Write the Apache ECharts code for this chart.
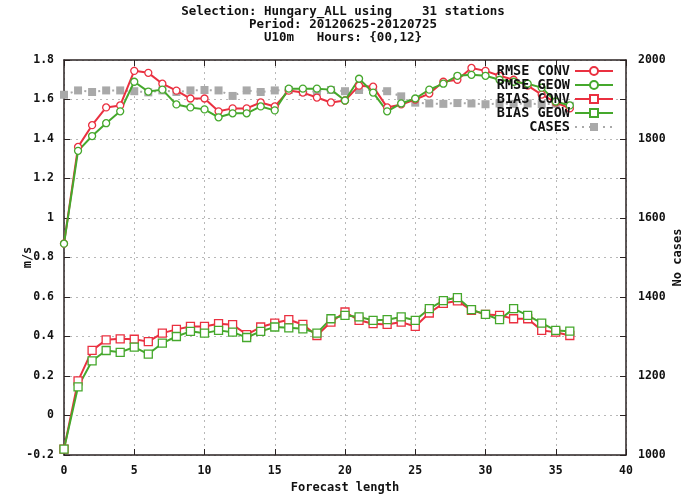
<!DOCTYPE html>
<html>
<head>
<meta charset="utf-8">
<script src="https://cdn.jsdelivr.net/npm/echarts@6/dist/echarts.min.js"></script>
<style>
  html, body { margin: 0; padding: 0; background: #fff; }
  #chart { width: 686px; height: 498px; }
</style>
</head>
<body>
<div id="chart"></div>
<script>
// Forecast length (hours)
const forecastLength = [0,1,2,3,4,5,6,7,8,9,10,11,12,13,14,15,16,17,18,19,20,21,22,23,24,25,26,27,28,29,30,31,32,33,34,35,36];

// Scores in m/s
const rmseConv = [0.87,1.36,1.47,1.56,1.57,1.745,1.735,1.68,1.645,1.605,1.605,1.54,1.555,1.555,1.585,1.565,1.645,1.635,1.61,1.585,1.595,1.67,1.665,1.56,1.575,1.60,1.63,1.69,1.70,1.76,1.745,1.72,1.70,1.67,1.625,1.585,1.555];
const rmseGeow = [0.87,1.34,1.415,1.48,1.54,1.69,1.64,1.65,1.575,1.56,1.55,1.51,1.53,1.53,1.565,1.545,1.655,1.655,1.655,1.65,1.595,1.705,1.635,1.54,1.58,1.605,1.65,1.68,1.72,1.725,1.72,1.70,1.69,1.68,1.66,1.59,1.57];
const biasConv = [-0.17,0.175,0.33,0.383,0.388,0.386,0.374,0.417,0.436,0.451,0.451,0.465,0.46,0.41,0.448,0.468,0.485,0.461,0.405,0.473,0.524,0.482,0.465,0.461,0.473,0.451,0.519,0.568,0.58,0.533,0.512,0.507,0.49,0.49,0.431,0.422,0.405];
const biasGeow = [-0.17,0.145,0.277,0.329,0.32,0.346,0.311,0.366,0.40,0.426,0.417,0.431,0.422,0.395,0.426,0.448,0.444,0.439,0.417,0.49,0.507,0.499,0.482,0.485,0.499,0.482,0.541,0.582,0.597,0.536,0.512,0.485,0.541,0.507,0.468,0.431,0.427];

// Number of cases (right axis)
const cases = [1912,1923,1919,1923,1923,1921,1918,1923,1919,1923,1924,1923,1909,1923,1919,1923,1924,1919,1921,1924,1921,1924,1924,1921,1908,1892,1890,1889,1891,1890,1888,1890,1889,1890,1888,1889,1884];

const titleLines = [
  'Selection: Hungary_ALL using    31 stations',
  'Period: 20120625-20120725',
  'U10m   Hours: {00,12}'
];

const FONT = '"DejaVu Sans Mono", "Liberation Mono", monospace';
const RED = '#ea3040';
const GREEN = '#45a82c';
const GREY = '#a9a9a9';
const FRAME = '#2a2222';

const pairs = ys => forecastLength.map((x, i) => [x, ys[i]]);

function lineSeries(name, data, color, symbol, size, yAxisIndex) {
  return {
    name, type: 'line', data: pairs(data), yAxisIndex: yAxisIndex || 0,
    symbol, symbolSize: size, showAllSymbol: true,
    lineStyle: { color, width: 2 },
    itemStyle: { color: '#fff', borderColor: color, borderWidth: 1.3 },
    emphasis: { disabled: true }, z: 3
  };
}

const chart = echarts.init(document.getElementById('chart'), null, { renderer: 'canvas' });

const titleStyle = { fontFamily: FONT, fontWeight: 'bold', fontSize: 12.5, lineHeight: 16, color: '#111' };
const nameStyle = { fontFamily: FONT, fontWeight: 'bold', fontSize: 12, color: '#111' };
const gridLine = { show: true, lineStyle: { color: '#b8b8b8', type: [2, 4], width: 1 } };
const frameLine = { show: true, onZero: false, lineStyle: { color: FRAME, width: 1.5 } };
const innerTick = { show: true, inside: true, length: 6, lineStyle: { color: FRAME } };

chart.setOption({
  backgroundColor: '#fff',
  animation: false,
  // one title line per entry, stacked from the top
  title: titleLines.map((t, i) => ({
    text: t, left: 'center', top: 4 + i * 13, padding: 0,
    textStyle: titleStyle
  })),
  legend: {
    orient: 'vertical', align: 'right',
    right: 67, top: 59,
    itemWidth: 38, itemHeight: 10, itemGap: 0,
    textStyle: { fontFamily: FONT, fontWeight: 'bold', fontSize: 13.5, color: '#111' },
    data: ['RMSE CONV', 'RMSE GEOW', 'BIAS CONV', 'BIAS GEOW', 'CASES']
  },
  grid: { left: 64, right: 60, top: 60, bottom: 43, containLabel: false, outerBoundsMode: 'none' },
  xAxis: [
    {
      type: 'value', min: 0, max: 40, interval: 5, position: 'bottom',
      name: 'Forecast length', nameLocation: 'middle', nameGap: 27, nameMoveOverlap: false,
      nameTextStyle: nameStyle,
      axisLine: frameLine, axisTick: innerTick,
      axisLabel: { fontFamily: FONT, fontWeight: 'bold', fontSize: 11.5, color: '#111', margin: 10 },
      splitLine: gridLine
    },
    {
      type: 'value', min: 0, max: 40, interval: 5, position: 'top',
      axisLine: frameLine, axisTick: innerTick,
      axisLabel: { show: false }, splitLine: { show: false }
    }
  ],
  yAxis: [
    {
      type: 'value', min: -0.2, max: 1.8, interval: 0.2, position: 'left',
      name: 'm/s', nameLocation: 'middle', nameGap: 30, nameRotate: 90, nameMoveOverlap: false,
      nameTextStyle: nameStyle,
      axisLine: frameLine, axisTick: innerTick,
      axisLabel: {
        fontFamily: FONT, fontWeight: 'bold', fontSize: 11.5, color: '#111', margin: 10,
        formatter: v => String(Math.round(v * 10) / 10)
      },
      splitLine: gridLine
    },
    {
      type: 'value', min: 1000, max: 2000, interval: 100, position: 'right',
      name: 'No cases', nameLocation: 'middle', nameGap: 46, nameRotate: 90, nameMoveOverlap: false,
      nameTextStyle: nameStyle,
      axisLine: frameLine, axisTick: innerTick,
      axisLabel: {
        fontFamily: FONT, fontWeight: 'bold', fontSize: 11.5, color: '#111', margin: 12,
        formatter: v => (Math.round(v) % 200 === 0 ? String(Math.round(v)) : '')
      },
      splitLine: { show: false }
    }
  ],
  series: [
    lineSeries('RMSE CONV', rmseConv, RED, 'circle', 7),
    lineSeries('RMSE GEOW', rmseGeow, GREEN, 'circle', 7),
    lineSeries('BIAS CONV', biasConv, RED, 'rect', 8),
    lineSeries('BIAS GEOW', biasGeow, GREEN, 'rect', 8),
    {
      name: 'CASES', type: 'line', data: pairs(cases), yAxisIndex: 1,
      symbol: 'rect', symbolSize: 8, showAllSymbol: true,
      lineStyle: { color: GREY, width: 2, type: [2, 5] },
      itemStyle: { color: GREY, borderWidth: 0 },
      emphasis: { disabled: true }, z: 2
    }
  ]
});
</script>
</body>
</html>
